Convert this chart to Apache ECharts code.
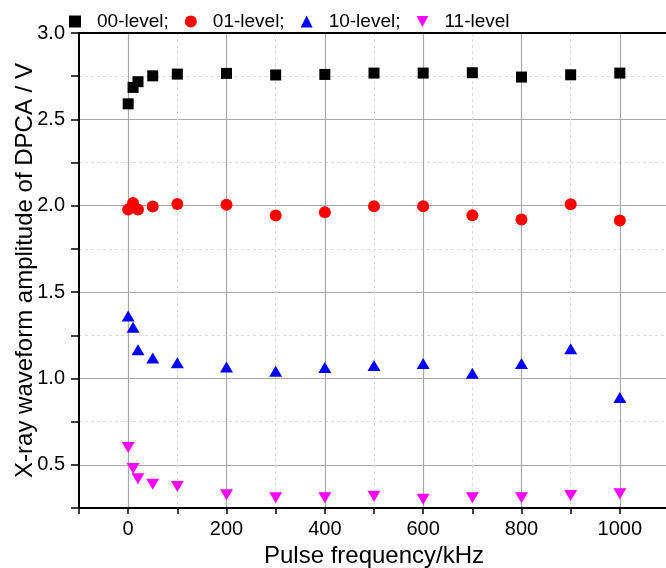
<!DOCTYPE html>
<html>
<head>
<meta charset="utf-8">
<script src="https://cdn.jsdelivr.net/npm/echarts@6/dist/echarts.min.js"></script>
<style>
  html, body { margin: 0; padding: 0; background: #fff; }
  #main { width: 666px; height: 568px; }
</style>
</head>
<body>
<div id="main"></div>
<script>
// 脉冲频率 (kHz)
var freq = [0, 10, 20, 50, 100, 200, 300, 400, 500, 600, 700, 800, 900, 1000]
// 各电平幅值 (V)
var level00 = [2.59, 2.685, 2.718, 2.752, 2.762, 2.766, 2.757, 2.76, 2.768, 2.768, 2.77, 2.745, 2.758, 2.768]
var level01 = [1.978, 2.016, 1.978, 1.995, 2.01, 2.005, 1.943, 1.962, 1.997, 1.997, 1.945, 1.92, 2.008, 1.915]
var level10 = [1.361, 1.297, 1.166, 1.118, 1.091, 1.066, 1.041, 1.064, 1.075, 1.087, 1.03, 1.087, 1.172, 0.89]
var level11 = [0.6, 0.478, 0.42, 0.387, 0.374, 0.326, 0.31, 0.31, 0.318, 0.30, 0.31, 0.31, 0.322, 0.332]
var seriesNames = ['00-level;', '01-level;', '10-level;', '11-level']

var downTri = 'path://M0,0 L10,0 L5,9 Z'
var font = 'Liberation Sans'

function pairs (ys) {
    return freq.map(function (f, i) { return [f, ys[i]] })
}

// 主网格线只在整刻度上显示
function isMajor (v, step) {
    return Math.abs(v / step - Math.round(v / step)) < 1e-9
}

var myChart = echarts.init(document.getElementById('main'))
var option = {
    animation: false,
    textStyle: { fontFamily: font },
    legend: {
        left: 64,
        top: 7,
        itemWidth: 12,
        itemHeight: 12,
        itemGap: 16,
        textStyle: { fontSize: 19, color: '#000', fontFamily: font, padding: [0, 0, 0, 11] },
        data: [
            { name: seriesNames[0], icon: 'rect' },
            { name: seriesNames[1], icon: 'circle' },
            { name: seriesNames[2], icon: 'triangle' },
            { name: seriesNames[3], icon: downTri }
        ]
    },
    grid: {
        left: 79,
        right: -3,
        top: 33,
        bottom: 60,
        containLabel: false,
        outerBoundsMode: 'none'
    },
    xAxis: [
        {
            type: 'value',
            position: 'bottom',
            min: -100,
            max: 1100,
            interval: 100,
            name: 'Pulse frequency/kHz',
            nameLocation: 'middle',
            nameGap: 32,
            nameTextStyle: { fontSize: 24, color: '#000', fontFamily: font },
            axisLine: { show: true, onZero: false, lineStyle: { color: '#000', width: 2 } },
            axisTick: { show: true, inside: false, length: 6, lineStyle: { color: '#000', width: 1.5 } },
            axisLabel: {
                fontSize: 20,
                color: '#000',
                margin: 11,
                formatter: function (v) {
                    return (v >= 0 && v <= 1000 && isMajor(v, 200)) ? String(v) : ''
                }
            },
            splitLine: { show: true, lineStyle: { color: ['rgba(0,0,0,0)', '#a8a8a8'], width: 1.2, type: 'solid' } }
        },
        {
            type: 'value',
            position: 'top',
            min: -100,
            max: 1100,
            interval: 100,
            axisLine: { show: true, onZero: false, lineStyle: { color: '#000', width: 2 } },
            axisTick: { show: false },
            axisLabel: { show: false },
            splitLine: { show: true, lineStyle: { color: ['#dcdcdc', 'rgba(0,0,0,0)'], width: 1, type: [3, 3] } }
        }
    ],
    yAxis: [
        {
            type: 'value',
            position: 'left',
            min: 0.25,
            max: 3,
            interval: 0.25,
            name: 'X-ray waveform amplitude of DPCA / V',
            nameLocation: 'middle',
            nameGap: 42,
            nameMoveOverlap: false,
            nameTextStyle: { fontSize: 24, color: '#000', fontFamily: font },
            axisLine: { show: true, onZero: false, lineStyle: { color: '#000', width: 2 } },
            axisTick: { show: true, inside: false, length: 8, lineStyle: { color: '#000', width: 1.5 } },
            axisLabel: {
                fontSize: 20,
                color: '#000',
                margin: 14,
                formatter: function (v) {
                    return isMajor(v, 0.5) ? v.toFixed(1) : ''
                }
            },
            splitLine: { show: true, lineStyle: { color: ['rgba(0,0,0,0)', '#a8a8a8'], width: 1.2, type: 'solid' } }
        },
        {
            type: 'value',
            position: 'right',
            min: 0.25,
            max: 3,
            interval: 0.25,
            axisLine: { show: false },
            axisTick: { show: false },
            axisLabel: { show: false },
            splitLine: { show: true, lineStyle: { color: ['#dcdcdc', 'rgba(0,0,0,0)'], width: 1, type: [3, 3] } }
        }
    ],
    series: [
        {
            name: seriesNames[0],
            type: 'scatter',
            symbol: 'rect',
            symbolSize: 11,
            itemStyle: { color: '#000', opacity: 1 },
            data: pairs(level00)
        },
        {
            name: seriesNames[1],
            type: 'scatter',
            symbol: 'circle',
            symbolSize: 12,
            itemStyle: { color: '#ff0000', opacity: 1 },
            data: pairs(level01)
        },
        {
            name: seriesNames[2],
            type: 'scatter',
            symbol: 'triangle',
            symbolSize: [13, 11],
            itemStyle: { color: '#0000ff', opacity: 1 },
            data: pairs(level10)
        },
        {
            name: seriesNames[3],
            type: 'scatter',
            symbol: downTri,
            symbolSize: [13, 11],
            itemStyle: { color: '#ff00ff', opacity: 1 },
            data: pairs(level11)
        }
    ]
}
myChart.setOption(option)
</script>
</body>
</html>
